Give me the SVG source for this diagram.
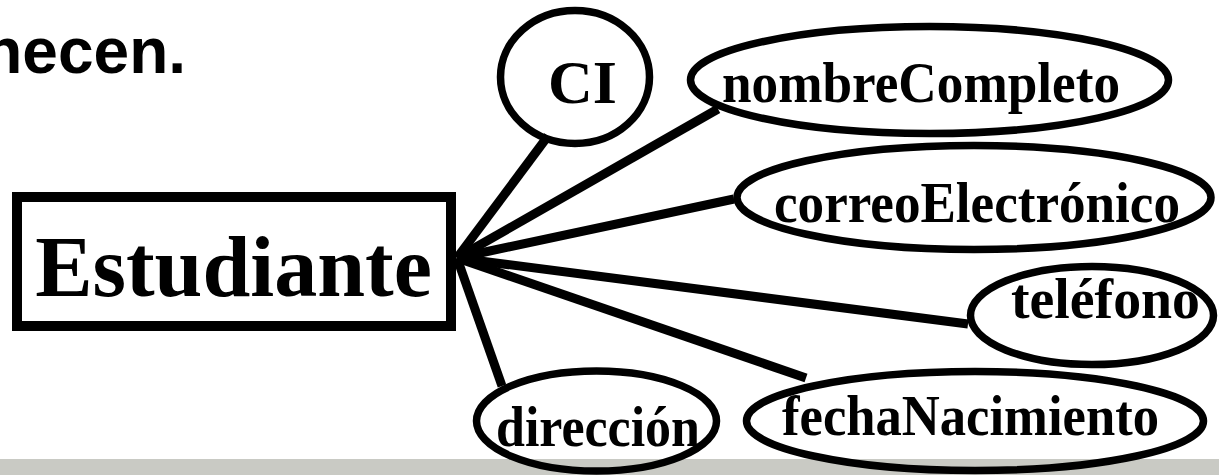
<svg xmlns="http://www.w3.org/2000/svg" width="1219" height="475" viewBox="0 0 1219 475">
<style>
.attr{fill:none;stroke:#000;stroke-width:7.5}
.lbl{font-family:"Liberation Serif","Times New Roman",serif;font-weight:bold;fill:#000}
.conn line{stroke:#000;stroke-width:9;stroke-linecap:butt}
</style>
<rect x="0" y="0" width="1219" height="475" fill="#fff"/>
<rect id="footer-bar" x="0" y="459" width="1219" height="16" fill="#c9cac4"/>
<text x="186" y="73" text-anchor="end" font-family="Liberation Sans, Arial, sans-serif" font-weight="bold" font-size="64" fill="#000">necen.</text>
<g id="connectors" class="conn">
<line x1="457" y1="258" x2="548" y2="136"/>
<line x1="457" y1="258" x2="718" y2="109"/>
<line x1="457" y1="258" x2="734" y2="199"/>
<line x1="457" y1="258" x2="968" y2="324"/>
<line x1="457" y1="258" x2="806" y2="378"/>
<line x1="457" y1="258" x2="502" y2="386"/>
</g>
<g id="estudiante">
<rect x="17" y="197" width="434" height="129" fill="#fff" stroke="#000" stroke-width="10"/>
<text class="lbl" x="233.5" y="296" text-anchor="middle" font-size="86">Estudiante</text>
</g>
<g id="ci">
<ellipse class="attr" cx="575" cy="77" rx="74.5" ry="66.5"/>
<text class="lbl" x="582.5" y="103" text-anchor="middle" font-size="62">CI</text>
</g>
<g id="nombreCompleto">
<ellipse class="attr" cx="929.5" cy="80" rx="239" ry="53.5"/>
<text class="lbl" x="722" y="102" font-size="58" textLength="398" lengthAdjust="spacingAndGlyphs">nombreCompleto</text>
</g>
<g id="correoElectronico">
<ellipse class="attr" cx="974" cy="197.5" rx="237" ry="52"/>
<text class="lbl" x="774" y="222" font-size="58" textLength="406" lengthAdjust="spacingAndGlyphs">correoElectrónico</text>
</g>
<g id="telefono">
<ellipse class="attr" cx="1092" cy="315.5" rx="121.5" ry="49"/>
<text class="lbl" x="1011" y="318" font-size="58" textLength="189" lengthAdjust="spacingAndGlyphs">teléfono</text>
</g>
<g id="fechaNacimiento">
<ellipse class="attr" cx="975" cy="421" rx="228.5" ry="49.5"/>
<text class="lbl" x="782" y="435" font-size="58" textLength="377" lengthAdjust="spacingAndGlyphs">fechaNacimiento</text>
</g>
<g id="direccion">
<ellipse class="attr" cx="596.5" cy="421" rx="120" ry="50"/>
<text class="lbl" x="496" y="446" font-size="58" textLength="204" lengthAdjust="spacingAndGlyphs">dirección</text>
</g>
</svg>
